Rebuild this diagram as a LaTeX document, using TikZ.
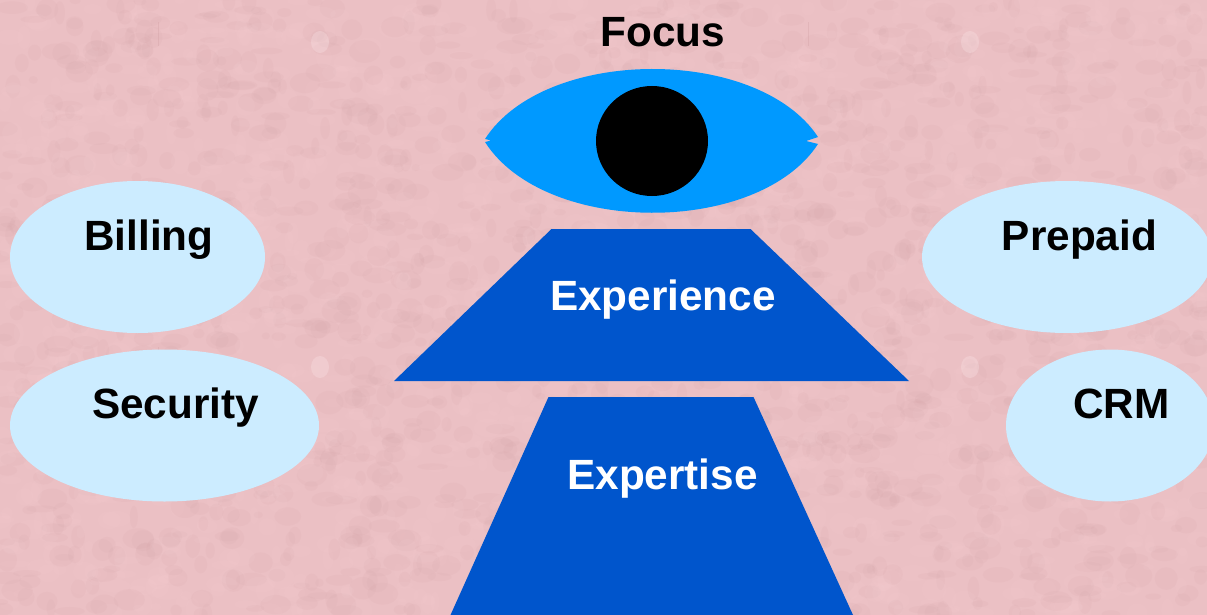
\documentclass[tikz,border=0pt]{standalone}
\usepackage{fontspec}
\setmainfont{Liberation Sans}
\usetikzlibrary{shapes.geometric}
\definecolor{paper}{HTML}{EBC0C4}
\definecolor{paperlight}{HTML}{FAD6DA}
\definecolor{paperdark}{HTML}{CE9CA0}
\definecolor{eyeblue}{HTML}{0099FF}
\definecolor{trapblue}{HTML}{0055CC}
\definecolor{pale}{HTML}{CCECFF}
\tikzset{
  bubble/.style={ellipse,fill=pale,draw=none,inner sep=0pt,outer sep=0pt},
  lbl/.style={inner sep=0pt,outer sep=0pt,anchor=base,font=\fontsize{42.3}{42.3}\selectfont\bfseries},
  lblwhite/.style={lbl,text=white},
  trap/.style={fill=trapblue,draw=none},
  blotch/.style={draw=none,fill opacity=.09}
}
\begin{document}
\begin{tikzpicture}[x=1pt,y=-1pt]
\useasboundingbox (0,0) rectangle (1207,615);
\clip (0,0) rectangle (1207,615);
\fill[paper] (0,0) rectangle (1207,615);
% mottled paper texture
\pgfmathsetseed{4242}
\foreach \i in {1,...,3500}{
  \pgfmathsetmacro{\px}{1207*rnd}
  \pgfmathsetmacro{\py}{615*rnd}
  \pgfmathsetmacro{\rx}{4+12*rnd}
  \pgfmathsetmacro{\ry}{3+9*rnd}
  \pgfmathsetmacro{\kind}{rnd}
  \ifdim\kind pt>0.5pt
    \fill[blotch,paperlight] (\px,\py) ellipse [x radius=\rx,y radius=\ry];
  \else
    \fill[blotch,paperdark] (\px,\py) ellipse [x radius=\rx,y radius=\ry];
  \fi
}
% repeating marks of the tile
\foreach \tx in {0,650}{
  \foreach \ty in {0,325}{
    \fill[paperlight!60!white,fill opacity=.3] (\tx+320,\ty+42) ellipse [x radius=9,y radius=11];
    \fill[paperdark,fill opacity=.3] (\tx+158,\ty+22) rectangle (\tx+159,\ty+46);
  }
}
% eye
\fill[eyeblue] (485,139) .. controls (545,46) and (758,46) .. (818,137)
  -- (806,141) -- (818,144)
  .. controls (758,236) and (545,236) .. (485,142)
  -- (491,140.5) -- cycle;
\node[ellipse,fill=black,inner sep=0pt,minimum width=112pt,minimum height=110pt] (pupil) at (652,141) {};
\node[lbl] (focus) at (663,47) {Focus};
% trapezoids
\fill[trap] (551.5,229) -- (750.5,229) -- (909,381) -- (394,381) -- cycle;
\fill[trap] (548.5,397) -- (753.5,397) -- (853,615) -- (450.5,615) -- cycle;
\node[lblwhite] (experience) at (663,310) {Experience};
\node[lblwhite] (expertise) at (662.5,489) {Expertise};
% bubbles
\node[bubble,minimum width=255pt,minimum height=152pt] (billing) at (137.5,257) {};
\node[bubble,minimum width=309pt,minimum height=152pt] (security) at (164.5,425.5) {};
\node[bubble,minimum width=290pt,minimum height=152pt] (prepaid) at (1067,257) {};
\node[bubble,minimum width=208pt,minimum height=152pt] (crm) at (1110,425.5) {};
\node[lbl] (tbilling) at (149,250) {Billing};
\node[lbl] (tsecurity) at (175.5,418) {Security};
\node[lbl] (tprepaid) at (1079.5,250) {Prepaid};
\node[lbl] (tcrm) at (1121.5,418) {CRM};
\end{tikzpicture}
\end{document}
